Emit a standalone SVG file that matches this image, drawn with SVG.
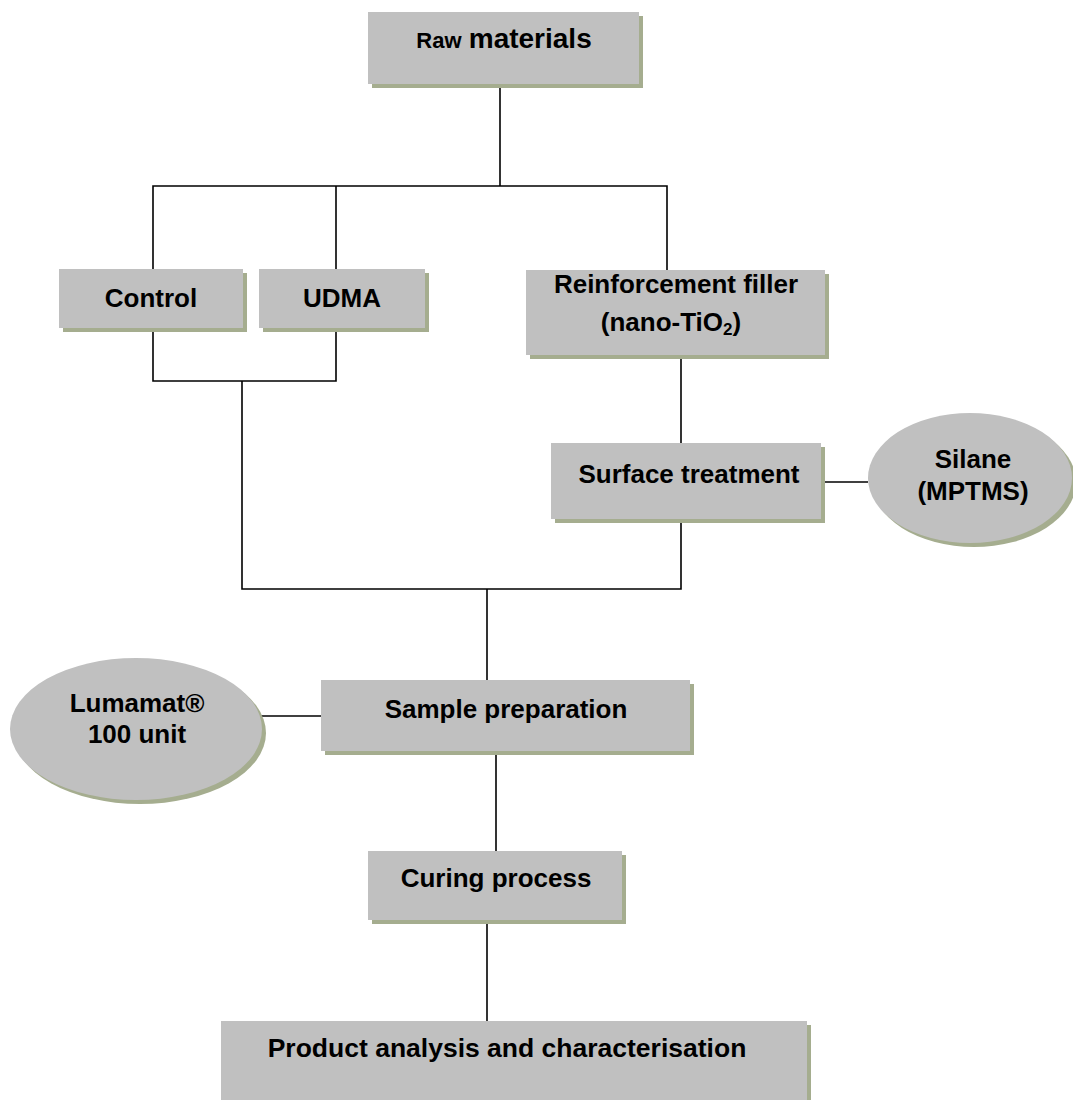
<svg xmlns="http://www.w3.org/2000/svg" width="1073" height="1100" viewBox="0 0 1073 1100">
<style>
.box{fill:#c0c0c0}
.sh{fill:#a5ad8f}
.t{font-family:"Liberation Sans",Arial,sans-serif;font-weight:bold;font-size:26px;fill:#000;text-anchor:middle}
.ln{stroke:#000;stroke-width:1.6;fill:none}
</style>
<rect width="1073" height="1100" fill="#fff"/>
<g id="connectors">
<polyline class="ln" points="500,84 500,186"/>
<polyline class="ln" points="153,269 153,186 667,186 667,270"/>
<polyline class="ln" points="336,186 336,269"/>
<polyline class="ln" points="153,328 153,381 336,381 336,328"/>
<polyline class="ln" points="242,381 242,589 681,589 681,519"/>
<polyline class="ln" points="681,355 681,443"/>
<polyline class="ln" points="821,482 868,482"/>
<polyline class="ln" points="487,589 487,680"/>
<polyline class="ln" points="260,716 321,716"/>
<polyline class="ln" points="496,751 496,851"/>
<polyline class="ln" points="487,920 487,1021"/>
</g>
<g id="raw">
<rect class="sh" x="372" y="16" width="271" height="72"/>
<rect class="box" x="368" y="12" width="271" height="72"/>
<text class="t" x="504" y="48"><tspan font-size="22">Raw</tspan> <tspan font-size="28">materials</tspan></text>
</g>
<g id="control">
<rect class="sh" x="63" y="273" width="184" height="59"/>
<rect class="box" x="59" y="269" width="184" height="59"/>
<text class="t" x="151" y="307">Control</text>
</g>
<g id="udma">
<rect class="sh" x="263" y="273" width="166" height="59"/>
<rect class="box" x="259" y="269" width="166" height="59"/>
<text class="t" x="342" y="307">UDMA</text>
</g>
<g id="filler">
<rect class="sh" x="530" y="274" width="299" height="85"/>
<rect class="box" x="526" y="270" width="299" height="85"/>
<text class="t" x="676" y="293">Reinforcement filler</text>
<text class="t" x="671" y="331">(nano-TiO<tspan font-size="17" dy="4">2</tspan><tspan dy="-4">)</tspan></text>
</g>
<g id="surface">
<rect class="sh" x="555" y="447" width="270" height="76"/>
<rect class="box" x="551" y="443" width="270" height="76"/>
<text class="t" x="689" y="483">Surface treatment</text>
</g>
<g id="silane">
<ellipse class="sh" cx="974" cy="482" rx="102" ry="65"/>
<ellipse class="box" cx="970" cy="478" rx="102" ry="65"/>
<text class="t" x="973" y="468">Silane</text>
<text class="t" x="973" y="500">(MPTMS)</text>
</g>
<g id="lumamat">
<ellipse class="sh" cx="140" cy="733" rx="126" ry="71"/>
<ellipse class="box" cx="136" cy="729" rx="126" ry="71"/>
<text class="t" x="137" y="712">Lumamat®</text>
<text class="t" x="137" y="743">100 unit</text>
</g>
<g id="sample">
<rect class="sh" x="325" y="684" width="369" height="71"/>
<rect class="box" x="321" y="680" width="369" height="71"/>
<text class="t" x="506" y="718">Sample preparation</text>
</g>
<g id="curing">
<rect class="sh" x="372" y="855" width="254" height="69"/>
<rect class="box" x="368" y="851" width="254" height="69"/>
<text class="t" x="496" y="887">Curing process</text>
</g>
<g id="product">
<rect class="sh" x="225" y="1025" width="586" height="80"/>
<rect class="box" x="221" y="1021" width="586" height="80"/>
<text class="t" x="507" y="1057" style="font-size:26.5px">Product analysis and characterisation</text>
</g>
</svg>
